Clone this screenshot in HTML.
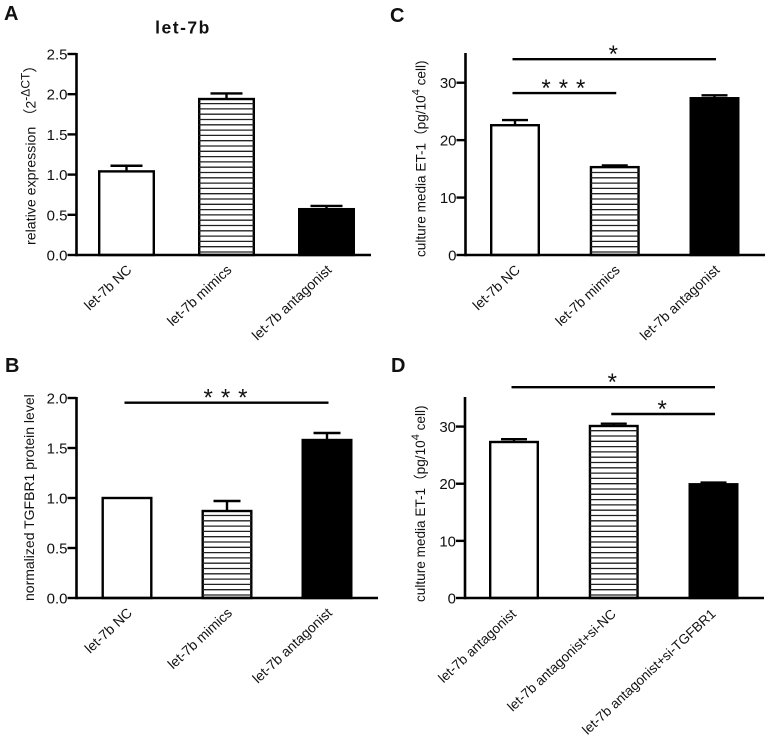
<!DOCTYPE html>
<html>
<head>
<meta charset="utf-8">
<title>let-7b figure</title>
<style>
html,body{margin:0;padding:0;background:#fff;}
svg{display:block;}
text{font-family:"Liberation Sans","Noto Sans CJK SC",sans-serif;fill:#111;}
</style>
</head>
<body>
<svg id="figure" xmlns="http://www.w3.org/2000/svg" width="771" height="746" viewBox="0 0 771 746">
  <rect width="771" height="746" fill="#fff"/>
  <text x="4" y="20" font-size="20" font-weight="bold">A</text>
  <text x="5" y="372" font-size="20" font-weight="bold">B</text>
  <text x="390" y="22" font-size="20" font-weight="bold">C</text>
  <text x="391" y="372" font-size="20" font-weight="bold">D</text>
  <text x="183" y="33.5" font-size="17.5" font-weight="bold" letter-spacing="1.5" text-anchor="middle">let-7b</text>

  <text transform="translate(35.5,245) rotate(-90)" font-size="14.2">relative expression （2<tspan dy="-6" font-size="12">-ΔCT</tspan><tspan dy="6">）</tspan></text>
  <text transform="translate(34,601) rotate(-90)" font-size="14">normalized TGFBR1 protein level</text>
  <text transform="translate(425.5,257) rotate(-90)" font-size="13.6">culture media ET-1（pg/10<tspan dy="-6" font-size="11">4</tspan><tspan dy="6"> cell)</tspan></text>
  <text transform="translate(425,602) rotate(-90)" font-size="13.6">culture media ET-1（pg/10<tspan dy="-6" font-size="11">4</tspan><tspan dy="6"> cell)</tspan></text>
</svg>
<script>
// ---- Chart data ----
const categoriesA = ["let-7b NC", "let-7b mimics", "let-7b antagonist"];
const valuesA = [1.04, 1.94, 0.57];
const errorTopsA = [1.11, 2.01, 0.61];
const ticksA = ["0.0", "0.5", "1.0", "1.5", "2.0", "2.5"];

const categoriesB = ["let-7b NC", "let-7b mimics", "let-7b antagonist"];
const valuesB = [1.0, 0.87, 1.58];
const errorTopsB = [1.0, 0.97, 1.65];
const ticksB = ["0.0", "0.5", "1.0", "1.5", "2.0"];
const sigFromB = [0];
const sigToB = [2];
const sigLevelB = [1.953];
const sigStarsB = [3];

const categoriesC = ["let-7b NC", "let-7b mimics", "let-7b antagonist"];
const valuesC = [22.6, 15.3, 27.3];
const errorTopsC = [23.5, 15.6, 27.8];
const ticksC = ["0", "10", "20", "30"];
const sigFromC = [0, 0];
const sigToC = [2, 1];
const sigLevelC = [34.1, 28.2];
const sigStarsC = [1, 3];

const categoriesD = ["let-7b antagonist", "let-7b antagonist+si-NC", "let-7b antagonist+si-TGFBR1"];
const valuesD = [27.3, 30.1, 19.9];
const errorTopsD = [27.8, 30.5, 20.2];
const ticksD = ["0", "10", "20", "30"];
const sigFromD = [0, 1];
const sigToD = [2, 2];
const sigLevelD = [36.9, 32.2];
const sigStarsD = [1, 1];

// ---- Layout ----
const panels = [
  {id:"a", cats:categoriesA, vals:valuesA, errs:errorTopsA, ticks:ticksA, from:[], to:[], level:[], stars:[],
   axisX:76.5, right:371, top:54, bottom:255, yMax:2.5, first:126.5, step:100, barW:57, capW:32, labelSize:13.9, labelDx:6, labelDy:16},
  {id:"b", cats:categoriesB, vals:valuesB, errs:errorTopsB, ticks:ticksB, from:sigFromB, to:sigToB, level:sigLevelB, stars:sigStarsB,
   axisX:76.5, right:378, top:398, bottom:598, yMax:2.0, first:127, step:100, barW:51, capW:27, labelSize:13.9, labelDx:6, labelDy:16},
  {id:"c", cats:categoriesC, vals:valuesC, errs:errorTopsC, ticks:ticksC, from:sigFromC, to:sigToC, level:sigLevelC, stars:sigStarsC,
   axisX:465.5, right:765, top:54, bottom:255, yMax:35, first:515, step:99.75, barW:50, capW:26, labelSize:13.9, labelDx:6, labelDy:16},
  {id:"d", cats:categoriesD, vals:valuesD, errs:errorTopsD, ticks:ticksD, from:sigFromD, to:sigToD, level:sigLevelD, stars:sigStarsD,
   axisX:465, right:764, top:398, bottom:598, yMax:35, first:514, step:99.75, barW:50, capW:26, labelSize:13.6, labelDx:3, labelDy:17}
];

const svg = document.getElementById("figure");
const NS = "http://www.w3.org/2000/svg";
function make(tag, attrs, parent) {
  const n = document.createElementNS(NS, tag);
  for (const k in attrs) n.setAttribute(k, attrs[k]);
  (parent || svg).appendChild(n);
  return n;
}

panels.forEach(function (p) {
  const yScale = function (v) { return p.bottom - (v / p.yMax) * (p.bottom - p.top); };
  const xScale = function (i) { return p.first + i * p.step; };

  const group = make("g", {});
  
  

  // bars
  p.vals.forEach(function (v, i) {
    const cx = xScale(i), top = yScale(v), left = cx - p.barW / 2;
    const errTop = yScale(p.errs[i]);

    if (p.errs[i] > v) {
      const stem = make("line", {x1:cx, x2:cx, y1:top, y2:errTop, stroke:"#000", "stroke-width":2.4}, group);
      
      
      const cap = make("line", {x1:cx - p.capW / 2, x2:cx + p.capW / 2, y1:errTop, y2:errTop, stroke:"#000", "stroke-width":2.4}, group);
      
      
    }

    const bar = make("rect", {
      x:left + 1.2, y:top, width:p.barW - 2.4, height:p.bottom - top,
      fill: i === 2 ? "#000" : "#fff", stroke:"#000", "stroke-width":2.4
    }, group);
    
    

    if (i === 1) {
      for (let y = p.bottom - 3; y > top + 2; y -= 5.3) {
        const hatch = make("line", {x1:left + 1, x2:left + p.barW - 1, y1:y, y2:y, stroke:"#222", "stroke-width":1.3}, group);
        
        
      }
    }

    const lx = cx + p.labelDx, ly = p.bottom + p.labelDy;
    const label = make("text", {"font-size":p.labelSize, "text-anchor":"end", transform:"translate(" + lx + "," + ly + ") rotate(-43)"}, group);
    label.textContent = p.cats[i];
    
    
  });

  // y axis, ticks and labels
  const yAxis = make("line", {x1:p.axisX, x2:p.axisX, y1:p.top - 1, y2:p.bottom + 1.3, stroke:"#000", "stroke-width":2.6}, group);
  
  

  p.ticks.forEach(function (t) {
    const y = yScale(parseFloat(t));
    const tick = make("line", {x1:p.axisX - 9, x2:p.axisX, y1:y, y2:y, stroke:"#000", "stroke-width":2.4}, group);
    
    
    const label = make("text", {x:p.axisX - 9, y:y + 5.5, "font-size":15, "text-anchor":"end"}, group);
    label.textContent = t;
    
    
  });

  // x axis
  const xAxis = make("line", {x1:p.axisX, x2:p.right, y1:p.bottom, y2:p.bottom, stroke:"#000", "stroke-width":2.6}, group);
  
  

  // significance lines
  p.level.forEach(function (lv, i) {
    const y = yScale(lv), x1 = xScale(p.from[i]) - 2.5, x2 = xScale(p.to[i]) + 1.5;
    const line = make("line", {x1:x1, x2:x2, y1:y, y2:y, stroke:"#000", "stroke-width":2.4}, group);
    
    
    const mid = (x1 + x2) / 2 - 1;
    for (let s = 0; s < p.stars[i]; s++) {
      const sx = mid + (s - (p.stars[i] - 1) / 2) * 17.3;
      const star = make("text", {x:sx, y:y + 3, "font-size":24, "text-anchor":"middle"}, group);
      star.textContent = "*";
      
      
    }
  });
});
</script>
</body>
</html>
